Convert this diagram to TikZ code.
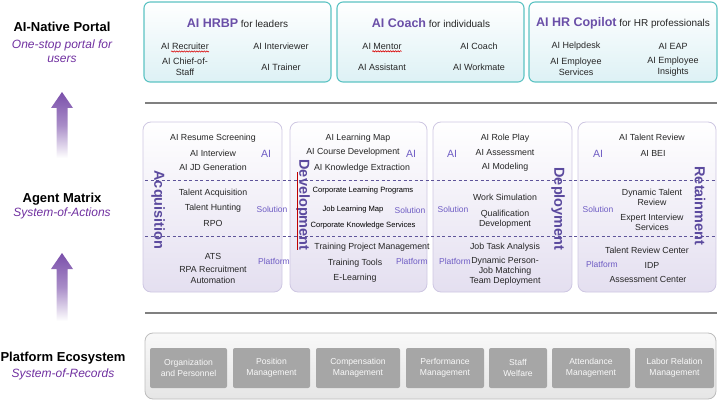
\documentclass[tikz,border=0pt]{standalone}
\usepackage{fontspec}
\setmainfont{Liberation Sans}
\usetikzlibrary{decorations.pathmorphing}
\definecolor{tpurple}{HTML}{6A4FA8}
\definecolor{ipurple}{HTML}{7030A0}
\definecolor{vpurple}{HTML}{5B4A9E}
\definecolor{lpurple}{HTML}{6E5CC4}
\definecolor{dashc}{HTML}{5E5499}
\definecolor{teal1}{HTML}{5CC3C3}
\definecolor{cyanl}{HTML}{DDF1F5}
\definecolor{lavb}{HTML}{CEC7E2}
\definecolor{lavf}{HTML}{E4DFF0}
\definecolor{txt}{HTML}{262626}
\definecolor{platg}{HTML}{A6A6A6}
\definecolor{platb}{HTML}{BDBDBD}
\definecolor{linec}{HTML}{808080}
\definecolor{arrowp}{HTML}{7A4FAA}
\tikzset{
  portalbox/.style={draw=teal1, line width=1.1pt, rounded corners=6pt, top color=white, bottom color=cyanl, minimum width=187pt, minimum height=80pt, inner sep=0},
  matbox/.style={draw=lavb, line width=0.8pt, rounded corners=8pt, top color=white, bottom color=lavf, minimum height=170pt, inner sep=0},
  mitem/.style={font=\fontsize{8.8}{10.5}\selectfont, text=txt, align=center, inner sep=0},
  smitem/.style={font=\fontsize{7.6}{9}\selectfont, text=black, align=center, inner sep=0},
  pitem/.style={font=\fontsize{9}{11}\selectfont, text=txt, align=center, inner sep=0},
  lyr/.style={font=\fontsize{8.5}{10}\selectfont, text=lpurple, inner sep=0},
  ailyr/.style={font=\fontsize{10.5}{12}\selectfont, text=lpurple, inner sep=0},
  vlabel/.style={font=\bfseries\fontsize{14.5}{16}\selectfont, text=vpurple, rotate=-90, inner sep=0},
  ltitle/.style={font=\bfseries\fontsize{13}{15}\selectfont, text=black, inner sep=0},
  lsub/.style={font=\itshape\fontsize{12}{14.5}\selectfont, text=ipurple, align=center, inner sep=0},
  htitle/.style={text=txt, inner sep=0},
  sysbox/.style={fill=platg, rounded corners=2pt, minimum height=40pt, inner sep=0, font=\fontsize{8.6}{10.5}\selectfont, text=white!95!gray, align=center},
  divline/.style={draw=linec, line width=1.6pt},
  dashline/.style={draw=dashc, line width=1pt, dash pattern=on 3pt off 2.5pt},
  squig/.style={draw=red!85!black, line width=0.6pt, decorate, decoration={snake, amplitude=0.6pt, segment length=2.5pt}},
  arrowshade/.style={top color=arrowp, bottom color=white, middle color=arrowp!65!white}
}
\newcommand{\ttl}[2]{\textcolor{tpurple}{\bfseries\fontsize{12.5}{14}\selectfont #1} {\fontsize{10}{12}\selectfont #2}}
\begin{document}
\begin{tikzpicture}[x=1pt,y=-1pt]
\useasboundingbox (0,0) rectangle (720,401);

% ---------- left labels ----------
\node[ltitle] (L1) at (62,27) {AI-Native Portal};
\node[lsub] (L1s) at (62,51) {One-stop portal for\\users};
\node[ltitle] (L2) at (62,199) {Agent Matrix};
\node[lsub] (L2s) at (62,213) {System-of-Actions};
\node[ltitle] (L3) at (63,358) {Platform Ecosystem};
\node[lsub] (L3s) at (63,374) {System-of-Records};

% arrows
\shade[arrowshade] (62,92) -- (73,108) -- (67.5,108) -- (67.5,158) -- (56.5,158) -- (56.5,108) -- (51,108) -- cycle;
\shade[arrowshade] (62,253) -- (73,269) -- (67.5,269) -- (67.5,321) -- (56.5,321) -- (56.5,269) -- (51,269) -- cycle;

% ---------- portal ----------
\node[portalbox] (pb1) at (237.5,42) {};
\node[portalbox] (pb2) at (430.5,42) {};
\node[portalbox, minimum width=188pt] (pb3) at (623,42) {};

\node[htitle] (h1) at (237.5,23) {\ttl{AI HRBP}{for leaders}};
\node[htitle] (h2) at (431,23) {\ttl{AI Coach}{for individuals}};
\node[htitle] (h3) at (623,23) {\ttl{AI HR Copilot}{for HR professionals}};

\node[pitem] (r1a) at (185,46.5) {AI Recruiter};
\node[pitem] (r1b) at (281,46.5) {AI Interviewer};
\node[pitem] (r1c) at (185,67) {AI Chief-of-\\Staff};
\node[pitem] (r1d) at (281,67) {AI Trainer};
\node[pitem] (r2a) at (382,46.5) {AI Mentor};
\node[pitem] (r2b) at (479,46.5) {AI Coach};
\node[pitem] (r2c) at (382,67) {AI Assistant};
\node[pitem] (r2d) at (479,67) {AI Workmate};
\node[pitem] (r3a) at (576,46.5) {AI Helpdesk};
\node[pitem] (r3b) at (673,46.5) {AI EAP};
\node[pitem] (r3c) at (576,67) {AI Employee\\Services};
\node[pitem] (r3d) at (673,67) {AI Employee\\Insights};
\draw[squig] ([xshift=10pt,yshift=-1.5pt]r1a.south west) -- ([yshift=-1.5pt]r1a.south east);
\draw[squig] ([xshift=10pt,yshift=-1.5pt]r2a.south west) -- ([yshift=-1.5pt]r2a.south east);

% divider lines
\coordinate (d1a) at (145,103); \coordinate (d1b) at (717,103);
\coordinate (d2a) at (145,313); \coordinate (d2b) at (717,313);
\draw[divline] (d1a) -- (d1b);
\draw[divline] (d2a) -- (d2b);

% ---------- agent matrix ----------
\node[matbox, minimum width=139pt] (m1) at (212.5,207) {};
\node[matbox, minimum width=137pt] (m2) at (358.5,207) {};
\node[matbox, minimum width=139pt] (m3) at (502.5,207) {};
\node[matbox, minimum width=138pt] (m4) at (647,207) {};

\coordinate (s1a) at (145,180); \coordinate (s1b) at (716,180);
\coordinate (s2a) at (145,236); \coordinate (s2b) at (716,236);
\draw[dashline] (s1a) -- (s1b);
\draw[dashline] (s2a) -- (s2b);

% column 1
\node[mitem] (a11) at (213,138) {AI Resume Screening};
\node[mitem] (a12) at (213,153) {AI Interview};
\node[mitem] (a13) at (213,167) {AI JD Generation};
\node[ailyr] (ai1) at (266,154) {AI};
\node[mitem] (a14) at (213,193) {Talent Acquisition};
\node[mitem] (a15) at (213,208) {Talent Hunting};
\node[mitem] (a16) at (213,223) {RPO};
\node[lyr] (so1) at (272,209) {Solution};
\node[mitem] (a17) at (213,256) {ATS};
\node[mitem] (a18) at (213,275) {RPA Recruitment\\Automation};
\node[lyr] (pl1) at (274,261) {Platform};
\node[vlabel] (v1) at (158,210) {Acquisition};

% column 2
\node[mitem] (b11) at (358,138) {AI Learning Map};
\node[mitem] (b12) at (353,152) {AI Course Development};
\node[mitem] (b13) at (362,168) {AI Knowledge Extraction};
\node[ailyr] (ai2) at (411,154) {AI};
\node[smitem] (b14) at (363,191) {Corporate Learning Programs};
\node[smitem] (b15) at (353,210) {Job Learning Map};
\node[smitem] (b16) at (363,226) {Corporate Knowledge Services};
\node[lyr] (so2) at (410,210) {Solution};
\node[mitem] (b17) at (372,247) {Training Project Management};
\node[mitem] (b18) at (355,263) {Training Tools};
\node[mitem] (b19) at (355,278) {E-Learning};
\node[lyr] (pl2) at (412,261) {Platform};
\node[vlabel] (v2) at (303,205) {Development};
\coordinate (dv1) at (297.5,172); \coordinate (dv2) at (297.5,250);
\draw[draw=red!75!black, line width=0.7pt] (dv1) -- (dv2);

% column 3
\node[mitem] (c11) at (505,138) {AI Role Play};
\node[mitem] (c12) at (505,153) {AI Assessment};
\node[mitem] (c13) at (505,167) {AI Modeling};
\node[ailyr] (ai3) at (452,154) {AI};
\node[mitem] (c14) at (505,197) {Work Simulation};
\node[mitem] (c15) at (505,219) {Qualification\\Development};
\node[lyr] (so3) at (453,209) {Solution};
\node[mitem] (c16) at (505,247) {Job Task Analysis};
\node[mitem] (c17) at (505,266) {Dynamic Person-\\Job Matching};
\node[mitem] (c18) at (505,281) {Team Deployment};
\node[lyr] (pl3) at (455,261) {Platform};
\node[vlabel] (v3) at (558,209) {Deployment};

% column 4
\node[mitem] (e11) at (652,137) {AI Talent Review};
\node[mitem] (e12) at (653,153) {AI BEI};
\node[ailyr] (ai4) at (598,154) {AI};
\node[mitem] (e13) at (652,197.5) {Dynamic Talent\\Review};
\node[mitem] (e14) at (652,222.5) {Expert Interview\\Services};
\node[lyr] (so4) at (598,209) {Solution};
\node[mitem] (e15) at (647,250) {Talent Review Center};
\node[mitem] (e16) at (652,265) {IDP};
\node[mitem] (e17) at (648,279) {Assessment Center};
\node[lyr] (pl4) at (602,264) {Platform};
\node[vlabel] (v4) at (700,206) {Retainment};

% ---------- platform ecosystem ----------
\node[draw=platb, line width=0.8pt, rounded corners=8pt, top color=gray!5, bottom color=gray!20, minimum width=571pt, minimum height=66pt, inner sep=0] (plat) at (430.5,366) {};
\node[sysbox, minimum width=77pt] (q1) at (188.5,368) {Organization\\and Personnel};
\node[sysbox, minimum width=77pt] (q2) at (271.5,368) {Position\\Management};
\node[sysbox, minimum width=84pt] (q3) at (358,368) {Compensation\\Management};
\node[sysbox, minimum width=78pt] (q4) at (445,368) {Performance\\Management};
\node[sysbox, minimum width=58pt] (q5) at (518,368) {Staff\\Welfare};
\node[sysbox, minimum width=78pt] (q6) at (591,368) {Attendance\\Management};
\node[sysbox, minimum width=79pt] (q7) at (674.5,368) {Labor Relation\\Management};
\end{tikzpicture}
\end{document}
